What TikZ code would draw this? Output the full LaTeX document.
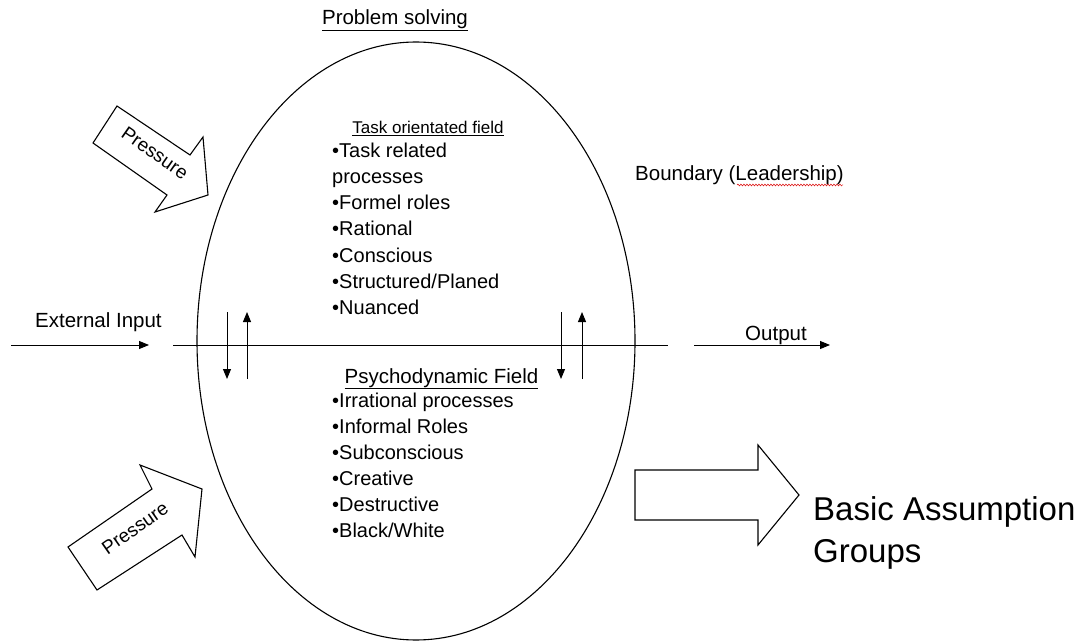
\documentclass[tikz,border=0pt]{standalone}
\usepackage{fontspec}
\setmainfont{Liberation Sans}
\usetikzlibrary{shapes.geometric,arrows.meta,decorations.pathmorphing}
\begin{document}
\begin{tikzpicture}[x=1pt,y=-1pt,
  lbl/.style={inner sep=0pt, font=\fontsize{20.5}{24}\selectfont},
  item/.style={inner sep=0pt, anchor=base west, font=\fontsize{20}{24}\selectfont},
  arr/.style={line width=1pt, -{Triangle[length=10pt,width=8pt]}},
  blockarrow/.style={draw, line width=1.1pt, line join=miter},
  press/.style={inner sep=0pt, font=\fontsize{19}{22}\selectfont},
]
\useasboundingbox (0,0) rectangle (1086,644);
% oval
\node[draw, ellipse, line width=1.1pt, minimum width=438, minimum height=598, inner sep=0pt] (oval) at (416,341) {};
% horizontal divider
\coordinate (hl) at (173,345);
\coordinate (hr) at (668,345);
\draw[line width=1pt] (hl) -- (hr);
% input / output
\coordinate (ina) at (11,345);
\coordinate (inb) at (149,345);
\draw[arr] (ina) -- (inb);
\coordinate (outa) at (694,345);
\coordinate (outb) at (830,345);
\draw[arr] (outa) -- (outb);
% small vertical arrows
\coordinate (l1a) at (227,312); \coordinate (l1b) at (227,379);
\coordinate (l2a) at (247,379); \coordinate (l2b) at (247,312);
\coordinate (r1a) at (561,312); \coordinate (r1b) at (561,379);
\coordinate (r2a) at (582,379); \coordinate (r2b) at (582,312);
\draw[arr] (l1a) -- (l1b);
\draw[arr] (l2a) -- (l2b);
\draw[arr] (r1a) -- (r1b);
\draw[arr] (r2a) -- (r2b);
% pressure block arrows
\draw[blockarrow] (93,143) -- (117,106) -- (190,155) -- (203,137) -- (208,195) -- (155,212) -- (167,195) -- cycle;
\node[press, rotate=-35] (p1) at (155,153) {Pressure};
\draw[blockarrow] (68,547) -- (152,489) -- (140,465) -- (202,489) -- (195,557) -- (182,535) -- (97,590) -- cycle;
\node[press, rotate=35] (p2) at (135,528) {Pressure};
% big output arrow
\draw[blockarrow] (635,470) -- (758,470) -- (758,445) -- (799,495) -- (758,545) -- (758,520) -- (635,520) -- cycle;
% texts
\node[lbl, anchor=base] (ps) at (395,25) {\underline{Problem solving}};
\node[inner sep=0pt, anchor=base, font=\fontsize{17}{20}\selectfont] (tof) at (428,134) {\underline{Task orientated field}};
\node[item] (t1) at (332,158) {•Task related};
\node[item] (t2) at (332,184) {processes};
\node[item] (t3) at (332,210) {•Formel roles};
\node[item] (t4) at (332,236) {•Rational};
\node[item] (t5) at (332,262) {•Conscious};
\node[item] (t6) at (332,288) {•Structured/Planed};
\node[item] (t7) at (332,314) {•Nuanced};
\node[lbl, anchor=base] (pdf) at (441.5,383) {\underline{Psychodynamic Field}};
\node[item] (s1) at (332,407) {•Irrational processes};
\node[item] (s2) at (332,433) {•Informal Roles};
\node[item] (s3) at (332,459) {•Subconscious};
\node[item] (s4) at (332,485) {•Creative};
\node[item] (s5) at (332,511) {•Destructive};
\node[item] (s6) at (332,537) {•Black/White};
\node[lbl, anchor=base west] (bd) at (635,181) {Boundary (Leadership)};
\coordinate (wa) at (737,185);
\coordinate (wb) at (843,185);
\draw[red!85!black, line width=0.5pt, decorate, decoration={snake, amplitude=0.9pt, segment length=3pt}] (wa) -- (wb);
\node[lbl, anchor=base west] (ei) at (35,327) {External Input};
\node[lbl, anchor=base west] (op) at (745,340) {Output};
\node[inner sep=0pt, anchor=base west, font=\fontsize{33}{40}\selectfont] (ba1) at (813,520) {Basic Assumption};
\node[inner sep=0pt, anchor=base west, font=\fontsize{33}{40}\selectfont] (ba2) at (813,562) {Groups};
\end{tikzpicture}
\end{document}
